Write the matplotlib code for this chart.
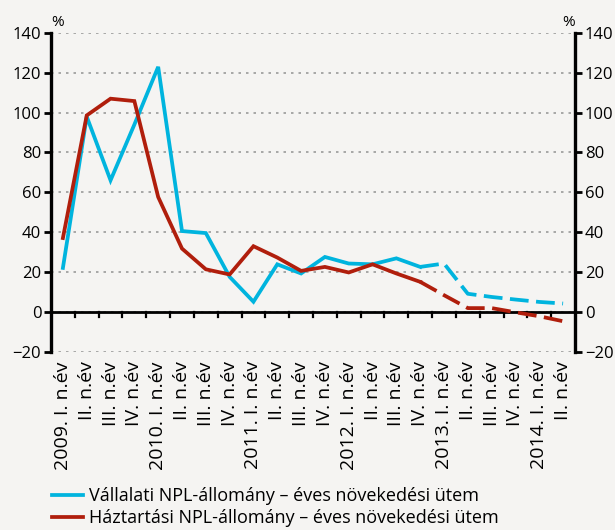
import matplotlib
matplotlib.use("Agg")
import matplotlib.pyplot as plt
import numpy as np

# Quarterly categories, 2009 Q1 – 2014 Q2
years = ["2009.", "2010.", "2011.", "2012.", "2013.", "2014."]
quarters = ["I.", "II.", "III.", "IV."]
labels = []
for y in years:
    for q in quarters:
        if len(labels) >= 22:
            break
        labels.append(f"{y} {q} n.év" if q == "I." else f"{q} n.év")

# Annual growth rate of NPL stock (%)
corporate = [22, 98, 66, 94, 123, 40.5, 39.5, 17.5, 5, 23.8, 19.2, 27.5,
             24.2, 23.8, 26.8, 22.5, 24.2, 9, 7.4, 6.1, 4.9, 4.1]
household = [37, 98.6, 107, 105.8, 57.6, 31.7, 21.3, 18.7, 32.9, 27.2, 20.5, 22.5,
             19.7, 23.8, 19.2, 15, 8.3, 1.8, 1.8, -0.3, -2.3, -4.8]
forecast_start = 15  # index from which values are projections (dashed)

series_names = ["Vállalati NPL-állomány – éves növekedési ütem",
                "Háztartási NPL-állomány – éves növekedési ütem"]
colors = ["#00B4DE", "#B01E0C"]

bg = "#F5F4F2"
plt.rcParams["font.family"] = ["Open Sans", "DejaVu Sans"]

fig = plt.figure(figsize=(6.15, 5.30), dpi=100, facecolor=bg)
ax = fig.add_axes([51 / 615, 1 - 351.5 / 530, (575 - 51) / 615, (351.5 - 33) / 530])
ax.set_facecolor(bg)

x = np.arange(len(labels))
lw = 2.7
for vals, c, name in zip([corporate, household], colors, series_names):
    ax.plot(x[:forecast_start + 1], vals[:forecast_start + 1], color=c, lw=lw,
            solid_joinstyle="miter", label=name)
    ax.plot(x[forecast_start:], vals[forecast_start:], color=c, lw=lw,
            dashes=(5, 2), dash_capstyle="butt")

ax.set_xlim(-0.5, len(labels) - 0.5)
ax.set_ylim(-20, 140)
yt = np.arange(-20, 141, 20)
ax.set_yticks(yt)
ax.set_yticklabels([f"{v}".replace("-", "\u2212") for v in yt])
for v in yt:
    ax.axhline(v, color="#9a9a9a", lw=1.2, ls=(0, (1.5, 3)), zorder=0)
ax.axhline(0, color="black", lw=2, zorder=1)

# boundary ticks on the zero line
for b in np.arange(0.5, len(labels) - 1, 1):
    ax.plot([b, b], [0, -2.8], color="black", lw=1.6, zorder=1, clip_on=False)

ax.set_xticks(x)
ax.set_xticklabels(labels, rotation=90, ha="center", va="top", fontsize=14)
ax.tick_params(axis="x", length=0, pad=7)
ax.tick_params(axis="y", which="both", direction="out", length=5, width=2,
               labelsize=12, pad=2, right=True, labelright=True)

for s in ["top", "bottom"]:
    ax.spines[s].set_visible(False)
for s in ["left", "right"]:
    ax.spines[s].set_linewidth(2.4)
    ax.spines[s].set_color("black")

ax.text(0, 1.01, "%", transform=ax.transAxes, ha="left", va="bottom", fontsize=11)
ax.text(1, 1.01, "%", transform=ax.transAxes, ha="right", va="bottom", fontsize=11)

handles, lbls = ax.get_legend_handles_labels()
leg = fig.legend(handles, lbls, loc="lower left", bbox_to_anchor=(51 / 615, 0.004),
                 frameon=False, fontsize=13, handlelength=1.7, handletextpad=0.35,
                 labelspacing=0.22, borderpad=0.05, borderaxespad=0)

fig.savefig("out.png", dpi=100, facecolor=bg)
